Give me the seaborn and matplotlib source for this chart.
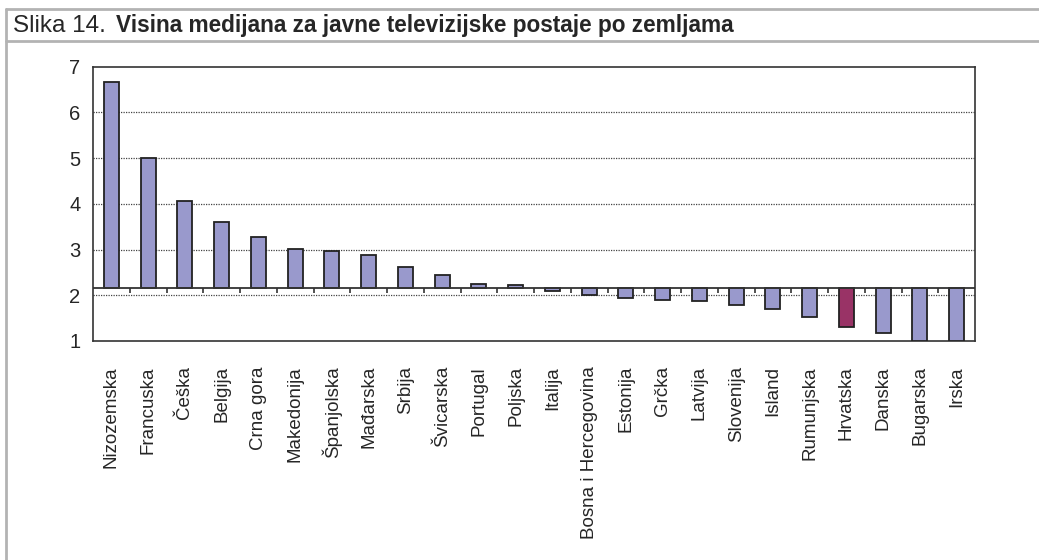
import pandas as pd
import numpy as np
import matplotlib
matplotlib.use("Agg")
import matplotlib.pyplot as plt
from matplotlib.lines import Line2D
import seaborn as sns

countries = ["Nizozemska", "Francuska", "Češka", "Belgija", "Crna gora", "Makedonija",
             "Španjolska", "Mađarska", "Srbija", "Švicarska", "Portugal", "Poljska",
             "Italija", "Bosna i Hercegovina", "Estonija", "Grčka", "Latvija", "Slovenija",
             "Island", "Rumunjska", "Hrvatska", "Danska", "Bugarska", "Irska"]
medians = [6.67, 5.00, 4.06, 3.61, 3.27, 3.01,
           2.97, 2.89, 2.61, 2.45, 2.25, 2.23,
           2.10, 2.01, 1.94, 1.90, 1.87, 1.78,
           1.70, 1.52, 1.31, 1.17, 1.00, 1.00]
baseline = 2.15
highlight = "Hrvatska"

data = pd.DataFrame({"zemlja": countries, "medijan": medians})
data["visina"] = data["medijan"] - baseline
palette = {c: ("#993366" if c == highlight else "#9999cc") for c in countries}

sns.set_style("white")
plt.rcParams["font.family"] = ["Liberation Sans", "DejaVu Sans"]

fig = plt.figure(figsize=(10.39, 5.6), dpi=100)
ax = fig.add_axes([93 / 1039, 1 - 341 / 560, (975 - 93) / 1039, (341 - 66.5) / 560])

sns.barplot(data=data, x="zemlja", y="visina", hue="zemlja", palette=palette,
            legend=False, width=0.41, bottom=baseline, edgecolor="#222222",
            linewidth=1.3, saturation=1, ax=ax, zorder=3)

ax.set_ylim(1, 7)
ax.set_xlim(-0.5, len(countries) - 0.5)
ax.set_yticks(range(1, 8))
ax.set_xlabel("")
ax.set_ylabel("")

# dotted gridlines
for y in range(2, 7):
    ax.axhline(y, color="#444444", linestyle=(0, (1, 1)), linewidth=0.9, zorder=1)

# baseline with category ticks
ax.axhline(baseline, color="#333333", linewidth=1.3, zorder=4)
ax.vlines(np.arange(len(countries) - 1) + 0.5, baseline - 0.09, baseline,
          color="#333333", linewidth=1.2, zorder=4)

for s in ax.spines.values():
    s.set_visible(True)
    s.set_color("#333333")
    s.set_linewidth(1.2)

ax.tick_params(axis="y", direction="out", length=5, width=1.2, color="#333333",
               labelsize=14.5, pad=4)
ax.tick_params(axis="x", length=0, labelsize=13.5, pad=18)
plt.setp(ax.get_xticklabels(), rotation=90)

# frame lines
fig.add_artist(Line2D([6 / 1039, 1], [1 - 8.5 / 560, 1 - 8.5 / 560], color="#b3b3b3", linewidth=2))
fig.add_artist(Line2D([6 / 1039, 1], [1 - 41 / 560, 1 - 41 / 560], color="#b3b3b3", linewidth=2))
fig.add_artist(Line2D([6 / 1039, 6 / 1039], [0, 1 - 8.5 / 560], color="#b3b3b3", linewidth=2))

# title
t1 = fig.text(13 / 1039, 1 - 32 / 560, "Slika 14.", fontsize=17.5, va="baseline", ha="left")
fig.canvas.draw()
bb = t1.get_window_extent()
fig.text((bb.x1 + 10) / 1039, 1 - 32 / 560,
         "Visina medijana za javne televizijske postaje po zemljama",
         fontsize=16.3, fontweight="bold", va="baseline", ha="left")

fig.savefig("out.png", dpi=100)
